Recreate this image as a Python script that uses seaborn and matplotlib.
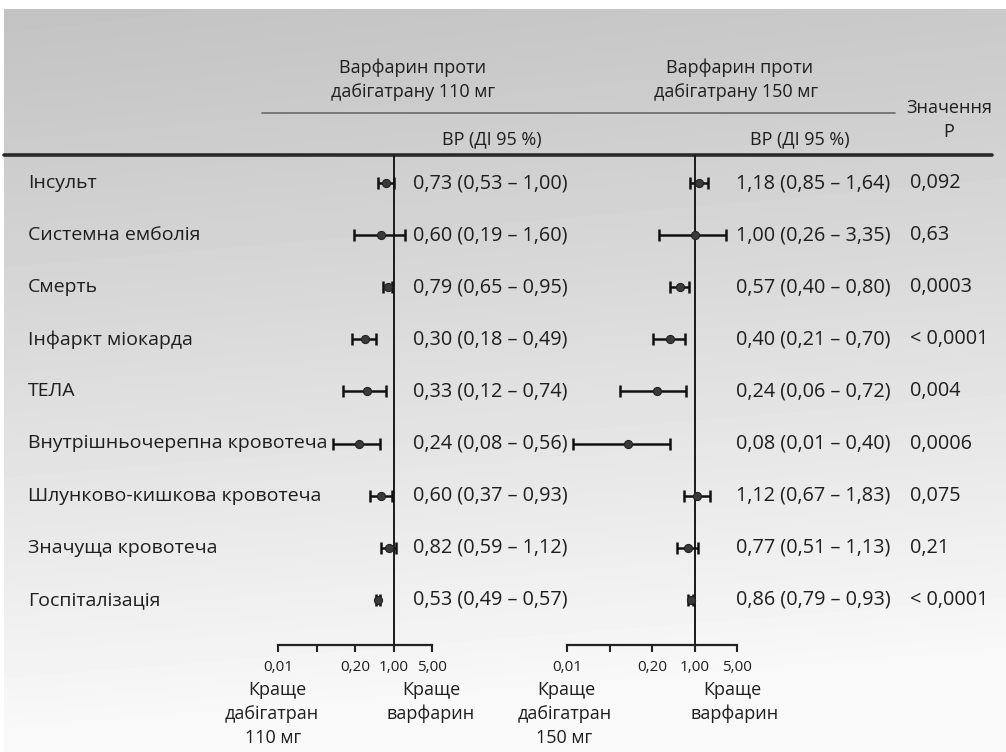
import numpy as np
import pandas as pd
import matplotlib
matplotlib.use("Agg")
import matplotlib.pyplot as plt
from matplotlib.ticker import FixedLocator, FixedFormatter, NullLocator
import seaborn as sns

# Outcomes and hazard ratios (warfarin vs dabigatran)
outcomes = ["Інсульт", "Системна емболія", "Смерть", "Інфаркт міокарда", "ТЕЛА",
            "Внутрішньочерепна кровотеча", "Шлунково-кишкова кровотеча",
            "Значуща кровотеча", "Госпіталізація"]
hr_110 = [0.73, 0.60, 0.79, 0.30, 0.33, 0.24, 0.60, 0.82, 0.53]
lo_110 = [0.53, 0.19, 0.65, 0.18, 0.12, 0.08, 0.37, 0.59, 0.49]
hi_110 = [1.00, 1.60, 0.95, 0.49, 0.74, 0.56, 0.93, 1.12, 0.57]
hr_150 = [1.18, 1.00, 0.57, 0.40, 0.24, 0.08, 1.12, 0.77, 0.86]
lo_150 = [0.85, 0.26, 0.40, 0.21, 0.06, 0.01, 0.67, 0.51, 0.79]
hi_150 = [1.64, 3.35, 0.80, 0.70, 0.72, 0.40, 1.83, 1.13, 0.93]
p_values = ["0,092", "0,63", "0,0003", "< 0,0001", "0,004", "0,0006", "0,075", "0,21", "< 0,0001"]

tick_values = [0.008, 0.04, 0.2, 1.0, 5.0]
tick_labels = ["0,01", "", "0,20", "1,00", "5,00"]

sns.set_theme(style="white")
plt.rcParams["font.family"] = ["Open Sans", "DejaVu Sans"]

W, H = 1006, 752
INK = "#1e1e1e"
fig = plt.figure(figsize=(W / 100, H / 100), dpi=100)
fig.patch.set_facecolor("white")

# Page layer in pixel coordinates: gradient backdrop, headers, rules, labels
page = fig.add_axes([0, 0, 1, 1])
page.set_xlim(0, W)
page.set_ylim(H, 0)
page.axis("off")
yy, xx = np.mgrid[0:200, 0:200] / 199.0
shade = np.clip(0.765 + 0.215 * yy ** 1.1 + 0.025 * xx, 0, 0.975)
page.imshow(shade, cmap="gray", vmin=0, vmax=1, extent=(4, W, H, 9),
            aspect="auto", interpolation="bilinear", zorder=0)

fs_head = 13.0
fs_label = 14.0
fs_num = 14.3

def txt(x, y, s, ha="left", size=fs_head, **kw):
    page.text(x, y, s, ha=ha, va="center", fontsize=size, color=INK, zorder=3, **kw)

txt(413, 68, "Варфарин проти", ha="center")
txt(413, 92, "дабігатрану 110 мг", ha="center")
txt(740, 68, "Варфарин проти", ha="center")
txt(736, 92, "дабігатрану 150 мг", ha="center")
txt(949, 108, "Значення", ha="center")
txt(949, 132, "Р", ha="center")
txt(492, 139, "ВР (ДІ 95 %)", ha="center")
txt(800, 139, "ВР (ДІ 95 %)", ha="center")
page.plot([262, 895], [113, 113], color="#6a6a6a", lw=1.2, zorder=2)
page.plot([4, 992], [155, 155], color="#2a2a2a", lw=2.6, zorder=2)

row_y0, row_dy = 183.0, 52.1
for i, name in enumerate(outcomes):
    y = row_y0 + i * row_dy
    txt(28, y, name, size=fs_label)
    txt(413, y, f"{hr_110[i]:.2f} ({lo_110[i]:.2f} – {hi_110[i]:.2f})".replace(".", ","), size=fs_num)
    txt(736, y, f"{hr_150[i]:.2f} ({lo_150[i]:.2f} – {hi_150[i]:.2f})".replace(".", ","), size=fs_num)
    txt(910, y, p_values[i], size=fs_num)

txt(277, 690, "Краще", ha="center")
txt(272, 714, "дабігатран", ha="center")
txt(273, 738, "110 мг", ha="center")
txt(431, 690, "Краще", ha="center")
txt(431, 714, "варфарин", ha="center")
txt(566, 690, "Краще", ha="center")
txt(565, 714, "дабігатран", ha="center")
txt(564, 738, "150 мг", ha="center")
txt(732, 690, "Краще", ha="center")
txt(735, 714, "варфарин", ha="center")

# Forest panels
top_px, bot_px = 155, 645
n = len(outcomes)
y_top = (top_px - row_y0) / row_dy
y_bot = (bot_px - row_y0) / row_dy

def panel(x0, x1, hr, lo, hi):
    ax = fig.add_axes([x0 / W, (H - bot_px) / H, (x1 - x0) / W, (bot_px - top_px) / H])
    ax.patch.set_alpha(0)
    ax.set_xscale("log")
    df = pd.DataFrame({"row": np.arange(n), "hr": hr, "lo": lo, "hi": hi})
    ax.errorbar(df["hr"], df["row"],
                xerr=[df["hr"] - df["lo"], df["hi"] - df["hr"]],
                fmt="none", ecolor="#111111", elinewidth=1.8, capsize=4.5,
                capthick=1.8, zorder=3)
    sns.scatterplot(data=df, x="hr", y="row", ax=ax, s=34, color="#3a3a3a",
                    edgecolor="#222222", linewidth=0.8, zorder=4, legend=False)
    ax.axvline(1.0, color="#1a1a1a", lw=1.4, zorder=2)
    ax.set_xlim(tick_values[0], tick_values[-1])
    ax.set_ylim(y_bot, y_top)
    ax.xaxis.set_major_locator(FixedLocator(tick_values))
    ax.xaxis.set_major_formatter(FixedFormatter(tick_labels))
    ax.xaxis.set_minor_locator(NullLocator())
    ax.set_yticks([])
    ax.set_xlabel("")
    ax.set_ylabel("")
    for s in ("top", "left", "right"):
        ax.spines[s].set_visible(False)
    ax.spines["bottom"].set_color("#222222")
    ax.spines["bottom"].set_linewidth(1.6)
    ax.tick_params(axis="x", bottom=True, direction="out", length=5, width=1.5,
                   color="#222222", pad=5.5, labelsize=11, labelcolor=INK)
    return ax

panel(278, 432, hr_110, lo_110, hi_110)
panel(567, 737, hr_150, lo_150, hi_150)

fig.savefig("out.png", dpi=100, facecolor=fig.get_facecolor())
